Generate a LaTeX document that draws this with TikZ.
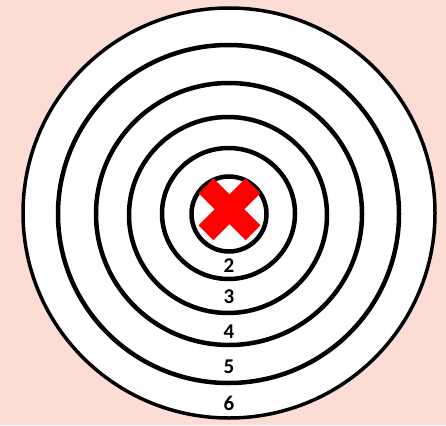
\documentclass[tikz,border=0pt]{standalone}
\usepackage{fontspec}
\setmainfont{Carlito}[BoldFont={Carlito Bold}]
\usetikzlibrary{calc}
\begin{document}
\begin{tikzpicture}[x=1pt,y=-1pt,
  ring/.style={draw=black,line width=4.5pt},
  lbl/.style={font=\bfseries\fontsize{21}{21}\selectfont,inner sep=0pt}]
\definecolor{bgpink}{RGB}{251,221,213}
\definecolor{xred}{RGB}{255,0,0}
\fill[bgpink] (0,0) rectangle (446,425);
\useasboundingbox (0,0) rectangle (446,425);
\filldraw[fill=white,draw=black,line width=3.5pt] (229,213) ellipse [x radius=206,y radius=205];
\draw[ring] (228.5,214) ellipse [x radius=170.5,y radius=169];
\draw[ring] (229,214) ellipse [x radius=133,y radius=131];
\draw[ring] (228,215) ellipse [x radius=99,y radius=98];
\draw[ring] (228.5,213.5) ellipse [x radius=66.5,y radius=65.5];
\draw[ring] (229,214) circle [radius=37.5];
\coordinate (xc) at (229.5,209.3);
\draw[xred,line width=21pt] ($(xc)+(-23.5,-23.5)$) -- ($(xc)+(23.5,23.5)$);
\draw[xred,line width=21pt] ($(xc)+(23.5,-23.5)$) -- ($(xc)+(-23.5,23.5)$);
\node[lbl] (l2) at (229,266) {2};
\node[lbl] (l3) at (229,297) {3};
\node[lbl] (l4) at (229,332) {4};
\node[lbl] (l5) at (229,367) {5};
\node[lbl] (l6) at (229,403) {6};
\end{tikzpicture}
\end{document}
